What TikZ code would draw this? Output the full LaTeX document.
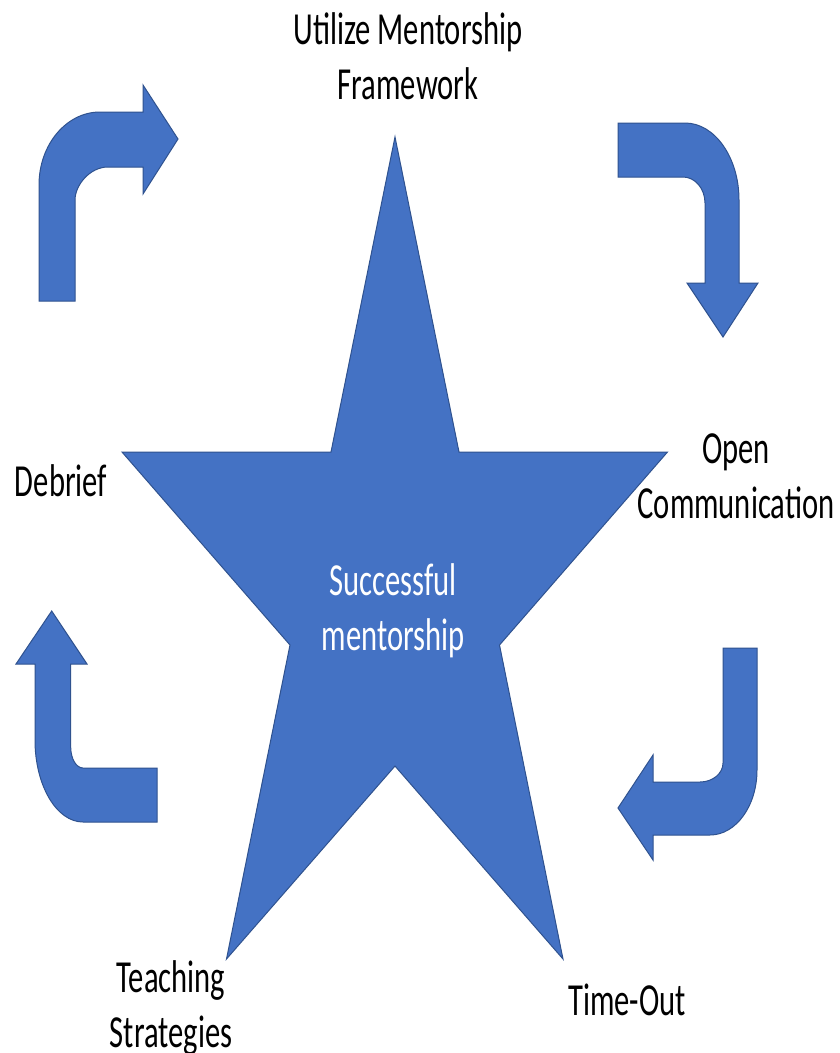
\documentclass[tikz,border=0pt]{standalone}
\usepackage{fontspec}
\setmainfont{Carlito}
\usepackage{graphicx}

\definecolor{shapefill}{HTML}{4472C4}
\definecolor{shapeedge}{HTML}{2F528F}

% text set in tall letters, first line's baseline is the node's base
\newcommand{\tallstack}[1]{\scalebox{1}[1.5]{\begin{tabular}[t]{@{}c@{}}#1\end{tabular}}}

\tikzset{
  blueshape/.style={fill=shapefill, draw=shapeedge, line width=1pt, line join=miter},
  label/.style={anchor=base, inner sep=0pt, text=black,
    font=\fontsize{30.6}{36.7}\selectfont},
  centerlabel/.style={label, text=white}
}

\begin{document}
\begin{tikzpicture}[x=1pt, y=-1pt]
\useasboundingbox (0,0) rectangle (839,1053);
\fill[white] (0,0) rectangle (839,1053);

% central five-pointed star
\path[blueshape] (395,137) -- (459,452) -- (667.5,452) -- (499.5,645)
  -- (563,959) -- (395,766) -- (226.5,959) -- (290,645)
  -- (122,452) -- (331,452) -- cycle;

% bent arrow, upper left: up then right
\path[blueshape] (39,301) -- (39,185)
  .. controls (39,144.7) and (66.3,112) .. (100,112)
  -- (143,112) -- (143,85) -- (178,139) -- (143,194) -- (143,167)
  -- (108,167) .. controls (89.8,167) and (75,185.2) .. (75,200)
  -- (75,301) -- cycle;

% bent arrow, upper right: right then down
\path[blueshape] (618,123) -- (685,123)
  .. controls (714.8,123) and (739,157.5) .. (739,200)
  -- (739,283) -- (758,283) -- (723,337) -- (687,283) -- (705,283)
  -- (705,203) .. controls (705,188.6) and (695.1,177) .. (683,177)
  -- (618,177) -- cycle;

% bent arrow, lower right: down then left
\path[blueshape] (723,648) -- (757,648) -- (757,770)
  .. controls (757,805.9) and (735.9,835) .. (710,835)
  -- (653,835) -- (653,860) -- (618,808) -- (653,755) -- (653,782)
  -- (700,782) .. controls (712.7,782) and (723,773.5) .. (723,763)
  -- cycle;

% bent arrow, lower left: left then up
\path[blueshape] (157,822) -- (83,822)
  .. controls (56.5,822) and (35,785.3) .. (35,740)
  -- (35,664) -- (16,664) -- (51.7,611) -- (87,664) -- (70.7,664)
  -- (70.7,747) .. controls (70.7,758.6) and (76.2,768) .. (83,768)
  -- (157,768) -- cycle;

% labels
\node[label] (framework) at (408,44) {\tallstack{Utilize Mentorship\\Framework}};
\node[label] (open) at (736,463) {\tallstack{Open\\Communication}};
\node[label] (debrief) at (61,496) {\tallstack{Debrief}};
\node[label] (teaching) at (171,992) {\tallstack{Teaching\\Strategies}};
\node[label] (timeout) at (627,1015) {\tallstack{Time-Out}};
\node[centerlabel] (center) at (393,595) {\tallstack{Successful\\mentorship}};
\end{tikzpicture}
\end{document}
